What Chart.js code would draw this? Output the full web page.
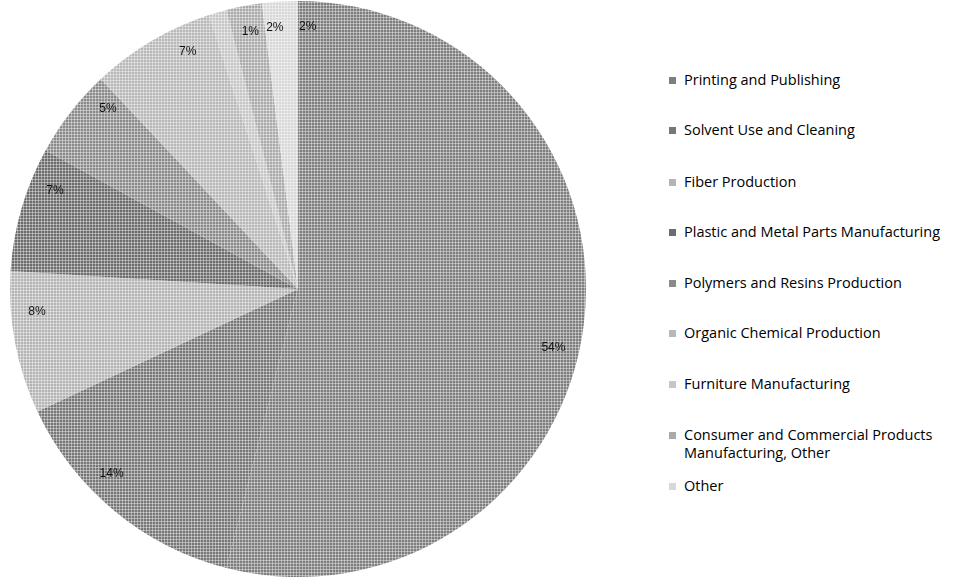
<!DOCTYPE html>
<html>
<head>
<meta charset="utf-8">
<script src="https://cdn.jsdelivr.net/npm/chart.js@4.4.1/dist/chart.umd.min.js"></script>
<style>
  body { margin: 0; background: #fff; width: 953px; height: 578px; overflow: hidden; position: relative; font-family: "Open Sans", sans-serif; }
  #wrap { position: absolute; left: 0; top: 0; width: 596px; height: 578px; }
  #legend { position: absolute; left: 668px; top: 0; }
  .item { position: absolute; left: 0; white-space: nowrap; font-size: 14.5px; line-height: 18px; color: #000; }
  .item i { position: absolute; left: 1px; top: 6px; width: 7px; height: 7px; }
  .item span { display: block; margin-left: 16px; }
</style>
</head>
<body>
<div id="wrap"><canvas id="chart"></canvas></div>
<div id="legend"></div>
<script>
// categorias e valores (percentuais)
var categories = ['Printing and Publishing', 'Solvent Use and Cleaning', 'Fiber Production',
  'Plastic and Metal Parts Manufacturing', 'Polymers and Resins Production', 'Organic Chemical Production',
  'Furniture Manufacturing', 'Consumer and Commercial Products Manufacturing, Other', 'Other'];
var shares = [54, 14, 8, 7, 5, 7, 1, 2, 2];
var percentLabels = ['54%', '14%', '8%', '7%', '5%', '7%', '1%', '2%', '2%'];

// tons de cinza de cada fatia
var colors = ['#7e7e7e', '#777777', '#b4b4b4', '#6c6c6c', '#8a8a8a', '#b8b8b8', '#c6c6c6', '#aaaaaa', '#d8d8d8'];

// deixa o cinza com a textura quadriculada da figura
function texture(c) {
  var cv = document.createElement('canvas');
  cv.width = 3; cv.height = 3;
  var g = cv.getContext('2d');
  g.fillStyle = c; g.fillRect(0, 0, 3, 3);
  g.fillStyle = 'rgba(255,255,255,0.4)';
  g.fillRect(2, 0, 1, 3); g.fillRect(0, 2, 3, 1);
  return g.createPattern(cv, 'repeat');
}

// plugin que escreve os percentuais dentro das fatias
var pctPlugin = {
  id: 'pct',
  afterDatasetsDraw: function (chart) {
    var ctx = chart.ctx;
    var arcs = chart.getDatasetMeta(0).data;
    ctx.save();
    ctx.font = '12px "Liberation Sans", sans-serif';
    ctx.fillStyle = '#111';
    ctx.textAlign = 'center';
    ctx.textBaseline = 'middle';
    arcs.forEach(function (a, i) {
      var mid = (a.startAngle + a.endAngle) / 2 + 0.1;
      var r = a.outerRadius * 0.91;
      ctx.fillText(percentLabels[i], a.x + Math.cos(mid) * r, a.y + Math.sin(mid) * r);
    });
    ctx.restore();
  }
};

var ctx = document.getElementById('chart').getContext('2d');
var chart = new Chart(ctx, {
  type: 'pie',
  data: {
    labels: categories,
    datasets: [{
      data: shares,
      backgroundColor: colors.map(texture),
      borderWidth: 0
    }]
  },
  options: {
    responsive: true,
    maintainAspectRatio: false,
    animation: false,
    layout: { padding: { top: 1, bottom: 1 } },
    plugins: { legend: { display: false }, tooltip: { enabled: false } }
  },
  plugins: [pctPlugin]
});

// legenda em html (um item tem duas linhas)
var legendTops = [71, 121, 173, 223, 274, 324, 375, 426, 477];
var legend = document.getElementById('legend');
categories.forEach(function (name, i) {
  var d = document.createElement('div');
  d.className = 'item';
  d.style.top = legendTops[i] + 'px';
  var txt = name === 'Consumer and Commercial Products Manufacturing, Other'
    ? 'Consumer and Commercial Products<br>Manufacturing, Other' : name;
  d.innerHTML = '<i style="background:' + colors[i] + '"></i><span>' + txt + '</span>';
  legend.appendChild(d);
});
</script>
</body>
</html>
